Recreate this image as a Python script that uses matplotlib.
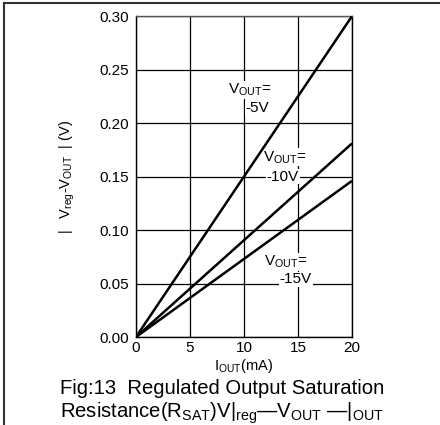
import matplotlib
matplotlib.use("Agg")
import matplotlib.pyplot as plt
from matplotlib.lines import Line2D

plt.rcParams['font.family'] = ['Liberation Sans', 'DejaVu Sans']
plt.rcParams['mathtext.fontset'] = 'custom'
plt.rcParams['mathtext.rm'] = 'Liberation Sans'
plt.rcParams['mathtext.it'] = 'Liberation Sans'
plt.rcParams['mathtext.default'] = 'regular'

# Data
i_out = [0, 20]
v_5 = [0, 0.300]
v_10 = [0, 0.181]
v_15 = [0, 0.146]
series = [("-5V", v_5), ("-10V", v_10), ("-15V", v_15)]
xticks = [0, 5, 10, 15, 20]
yticks = [0.00, 0.05, 0.10, 0.15, 0.20, 0.25, 0.30]

fig = plt.figure(figsize=(4.4, 4.25), dpi=100)
ax = fig.add_axes([0.309, 0.207, 0.491, 0.755])

for name, vals in series:
    ax.plot(i_out, vals, color='black', lw=1.8, zorder=4, solid_capstyle='butt')

ax.set_xlim(0, 20)
ax.set_ylim(0, 0.30)
ax.set_xticks(xticks)
ax.set_xticklabels([str(t) for t in xticks])
ax.set_yticks(yticks)
ax.set_yticklabels([f"{t:.2f}" for t in yticks])
ax.tick_params(length=0, labelsize=11)
ax.tick_params(axis='y', pad=5)
ax.tick_params(axis='x', pad=3)
ax.grid(True, color='black', lw=0.9)
ax.set_axisbelow(True)
for s in ax.spines.values():
    s.set_color('black')
    s.set_linewidth(1.0)
ax.spines['top'].set_color('#555555')

bb = dict(facecolor='white', edgecolor='none', pad=0.5)
txt = [
    (8.5, 0.231, r"V$_{\mathregular{OUT}}$="),
    (10.15, 0.214, "-5V"),
    (11.8, 0.168, r"V$_{\mathregular{OUT}}$="),
    (12.1, 0.150, "-10V"),
    (11.85, 0.070, r"V$_{\mathregular{OUT}}$="),
    (13.3, 0.054, "-15V"),
]
for x, y, s in txt:
    ax.text(x, y, s, fontsize=11, ha='left', va='center', bbox=bb, zorder=3)

ax.set_xlabel(r"I$_{\mathregular{OUT}}$(mA)", fontsize=10.5, labelpad=1)
ax.set_ylabel(r"|   V$_{\mathregular{reg}}$-V$_{\mathregular{OUT}}$  | (V)", fontsize=10.5, labelpad=16)

fig.text(0.136, 0.087, "Fig:13  Regulated Output Saturation", fontsize=14.6, ha='left', va='center')
fig.text(0.136, 0.028,
         r"Resistance(R$_{\mathregular{SAT}}$)V|$_{\mathregular{reg}}$—V$_{\mathregular{OUT}}$ —|$_{\mathregular{OUT}}$",
         fontsize=14.6, ha='left', va='center')

# outer frame lines
fig.add_artist(Line2D([0.009, 1.0], [0.993, 0.993], color='#333333', lw=1.5, transform=fig.transFigure))
fig.add_artist(Line2D([0.009, 0.009], [0.0, 0.993], color='#333333', lw=1.5, transform=fig.transFigure))

fig.savefig("out.png", dpi=100)
